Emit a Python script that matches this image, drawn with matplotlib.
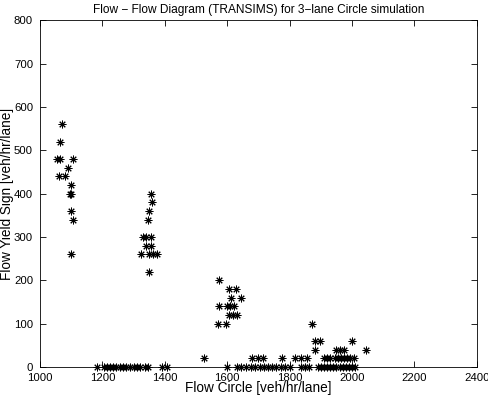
import numpy as np
import matplotlib.pyplot as plt

plt.rcParams['font.family'] = ['Liberation Sans', 'DejaVu Sans']

# flow on the circle [veh/hr/lane] and flow at the yield sign [veh/hr/lane]
circle_upper = [1070, 1065, 1055, 1065, 1105, 1090, 1060, 1080, 1100, 1095, 1100, 1100, 1105, 1100,
                1355, 1360, 1350, 1345, 1330, 1340, 1355, 1340, 1355, 1325, 1350, 1362, 1375, 1350,
                1575, 1605, 1628, 1612, 1645, 1575, 1598, 1610, 1622, 1605, 1618, 1632, 1570, 1595]
yield_upper = [560, 520, 480, 480, 480, 460, 440, 440, 420, 400, 400, 360, 340, 260,
               400, 380, 360, 340, 300, 300, 300, 280, 280, 260, 260, 260, 260, 220,
               200, 180, 180, 160, 160, 140, 140, 140, 140, 120, 120, 120, 100, 100]

circle_low = [1527, 1678, 1700, 1714, 1775, 1818, 1836, 1855,
              1910, 1920, 1930, 1945, 1955, 1965, 1975, 1985, 1995, 2005,
              1880, 1950, 1962, 1975, 2045,
              1880, 1898, 2000,
              1872]
yield_low = [20, 20, 20, 20, 20, 20, 20, 20,
             20, 20, 20, 20, 20, 20, 20, 20, 20, 20,
             40, 40, 40, 40, 40,
             60, 60, 60,
             100]

circle_zero = [1182, 1205, 1215, 1225, 1235, 1245, 1255, 1265, 1275, 1290, 1300, 1310, 1320, 1335, 1345,
               1390, 1408,
               1600, 1630, 1645, 1660, 1675, 1690, 1705, 1718, 1732, 1745, 1758, 1772, 1785, 1800,
               1835, 1848, 1862, 1890, 1900, 1910, 1920, 1930, 1940, 1950, 1960, 1970, 1980, 1990,
               2000, 2010]

flow_circle = np.array(circle_upper + circle_low + circle_zero)
flow_yield = np.array(yield_upper + yield_low + [0] * len(circle_zero))

fig = plt.figure(figsize=(4.88, 3.96), dpi=100)
ax = fig.add_axes([0.082, 0.073, 0.895, 0.876])

ax.plot(flow_circle, flow_yield, linestyle='none', marker=(8, 2, 0),
        markersize=5.5, markeredgewidth=0.7, color='black', clip_on=False)

ax.set_xlim(1000, 2400)
ax.set_ylim(0, 800)
ax.set_xticks(np.arange(1000, 2401, 200))
ax.set_yticks(np.arange(0, 801, 100))
ax.tick_params(direction='in', top=True, right=True, labelsize=8.2, length=4, width=0.6)
ax.tick_params(axis='x', pad=4)
ax.tick_params(axis='y', pad=5)
for s in ax.spines.values():
    s.set_linewidth(0.6)

ax.set_xlabel('Flow Circle [veh/hr/lane]', fontsize=9.8, labelpad=-1)
ax.set_ylabel('Flow Yield Sign [veh/hr/lane]', fontsize=9.8, labelpad=0)
ax.set_title('Flow \u2212 Flow Diagram (TRANSIMS) for 3\u2212lane Circle simulation', fontsize=8.6, pad=5)

fig.savefig('out.png', dpi=100)
